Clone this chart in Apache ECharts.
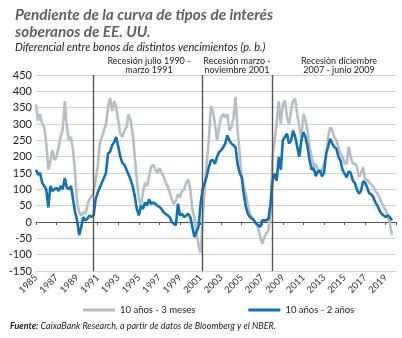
<!DOCTYPE html>
<html>
<head>
<meta charset="utf-8">
<script src="https://cdn.jsdelivr.net/npm/echarts@6/dist/echarts.min.js"></script>
<style>
html,body{margin:0;padding:0;background:#fff;}
#c{width:402px;height:338px;}
</style>
</head>
<body>
<div id="c"></div>
<script>
// Time base: first observation Jan 1985, one value every 0.2 years
const startYear = 1985;
const stepYears = 0.2;

// 10 años - 3 meses (p. b.)
const spread10y3m = [
  360, 310, 330, 300, 290,   // 1985
  240, 160, 185, 220, 190,   // 1986
  200, 230, 260, 285, 370,   // 1987
  290, 250, 260, 220, 150,   // 1988
  60, 30, 20, 30, 25,        // 1989
  50, 70, 80, 90, 130,       // 1990
  170, 240, 260, 280, 300,   // 1991
  350, 380, 340, 370, 350,   // 1992
  310, 270, 260, 280, 290,   // 1993
  330, 310, 270, 200, 130,   // 1994
  70, 50, 90, 120, 110,      // 1995
  140, 170, 175, 160, 150,   // 1996
  165, 150, 140, 120, 110,   // 1997
  90, 70, 55, 65, 85,        // 1998
  75, 95, 100, 120, 130,     // 1999
  100, 40, 10, -30, -70,     // 2000
  -95, 10, 100, 180, 250,    // 2001
  356, 340, 300, 250, 290,   // 2002
  320, 331, 320, 330, 280,   // 2003
  290, 320, 382, 280, 210,   // 2004
  140, 110, 85, 50, 25,      // 2005
  15, 5, -5, -20, -46,       // 2006
  -66, -46, -35, -25, 25,    // 2007
  200, 250, 300, 370, 300,   // 2008
  360, 372, 320, 300, 340,   // 2009
  372, 377, 330, 290, 260,   // 2010
  331, 310, 280, 229, 200,   // 2011
  168, 178, 160, 148, 160,   // 2012
  180, 199, 260, 290, 280,   // 2013
  260, 250, 229, 210, 199,   // 2014
  180, 178, 230, 200, 178,   // 2015
  180, 170, 137, 150, 168,   // 2016
  127, 130, 120, 115, 107,   // 2017
  95, 87, 75, 60, 46,        // 2018
  36, 20, -5, -40            // 2019
];

// 10 años - 2 años (p. b.)
const spread10y2y = [
  160, 145, 150, 120, 110,   // 1985
  100, 45, 110, 95, 100,     // 1986
  105, 95, 110, 100, 135,    // 1987
  105, 100, 110, 70, 30,     // 1988
  5, -40, -15, 15, 5,        // 1989
  10, 20, 15, 20, 70,        // 1990
  90, 105, 120, 135, 150,    // 1991
  210, 215, 235, 245, 260,   // 1992
  230, 200, 180, 175, 160,   // 1993
  145, 130, 110, 80, 40,     // 1994
  20, 50, 40, 60, 50,        // 1995
  70, 55, 60, 55, 50,        // 1996
  46, 40, 30, 25, 20,        // 1997
  15, 0, -5, -10, 56,        // 1998
  20, 25, 15, 20, 25,        // 1999
  15, -15, -46, -30, -15,    // 2000
  55, 100, 120, 140, 168,    // 2001
  188, 190, 178, 200, 214,   // 2002
  220, 229, 240, 265, 250,   // 2003
  240, 235, 229, 178, 150,   // 2004
  137, 87, 46, 25, 15,       // 2005
  10, 5, -5, -10, -15,       // 2006
  5, 5, 5, 10, 56,           // 2007
  127, 148, 127, 199, 160,   // 2008
  250, 260, 270, 240, 250,   // 2009
  280, 260, 230, 200, 250,   // 2010
  275, 260, 230, 190, 160,   // 2011
  165, 140, 155, 158, 140,   // 2012
  150, 209, 230, 255, 240,   // 2013
  229, 225, 200, 188, 160,   // 2014
  148, 137, 155, 150, 127,   // 2015
  120, 100, 87, 95, 125,     // 2016
  120, 105, 87, 85, 76,      // 2017
  60, 50, 35, 25, 20,        // 2018
  15, 20, 15, 5              // 2019
];

// Recession start dates (decimal years)
const recessionStarts = [1990.6, 2001.15, 2007.95];
const recessionLabels = [
  'Recesión julio 1990 -\nmarzo 1991',
  'Recesión marzo -\nnoviembre 2001',
  'Recesión diciembre\n2007 - junio 2009'
];

const seriesNames = ['10 años - 3 meses', '10 años - 2 años'];
const yTicks = {min: -150, max: 450, step: 50};
const xTicks = {firstYear: 1985, lastYear: 2020, step: 2};

const FONT = 'Lato, "Open Sans", sans-serif';

function toPairs(arr) {
  return arr.map((v, i) => [i * stepYears + (startYear - xTicks.firstYear), v]);
}

const chart = echarts.init(document.getElementById('c'), null, {renderer: 'canvas'});

const xSpan = xTicks.lastYear - xTicks.firstYear;

chart.setOption({
  animation: false,
  backgroundColor: '#fff',
  textStyle: {fontFamily: FONT},
  title: [
    {
      text: 'Pendiente de la curva de tipos de interés\nsoberanos de EE. UU.',
      left: 10, top: 2,
      textStyle: {fontFamily: FONT, fontSize: 15.3, fontWeight: 'bold', fontStyle: 'italic', color: '#616161', lineHeight: 17}
    },
    {
      text: 'Diferencial entre bonos de distintos vencimientos (p. b.)',
      left: 10, top: 36,
      textStyle: {fontFamily: FONT, fontSize: 11, fontWeight: 'normal', fontStyle: 'italic', color: '#222', lineHeight: 13}
    }
  ],
  grid: {left: 36, right: 6, top: 75, bottom: 67},
  legend: {
    data: seriesNames,
    left: 78, top: 300,
    icon: 'rect', itemWidth: 32, itemHeight: 3, itemGap: 53,
    textStyle: {fontFamily: FONT, fontSize: 9.5, color: '#222'}
  },
  xAxis: [
    {
      type: 'value', min: 0, max: xSpan, interval: xTicks.step,
      axisLine: {show: false, onZero: false},
      axisTick: {show: false},
      splitLine: {show: false},
      axisLabel: {
        rotate: 45, fontSize: 9.5, color: '#333', margin: 5, fontFamily: FONT,
        showMaxLabel: false,
        formatter: v => String(xTicks.firstYear + Math.round(v))
      }
    },
    {
      type: 'value', min: 0, max: xSpan, interval: xTicks.step, position: 'bottom',
      axisLine: {show: true, onZero: true, lineStyle: {color: '#555', width: 1}},
      axisTick: {show: true, length: 3, lineStyle: {color: '#555'}},
      splitLine: {show: false},
      axisLabel: {show: false}
    }
  ],
  yAxis: {
    type: 'value', min: yTicks.min, max: yTicks.max, interval: yTicks.step,
    axisLine: {show: false}, axisTick: {show: false},
    splitLine: {lineStyle: {color: '#cfcfcf', width: 1}},
    axisLabel: {fontSize: 11, color: '#222', margin: 4, fontFamily: FONT}
  },
  graphic: recessionLabels.map((t, i) => ({
    type: 'text',
    x: [149, 237, 339][i], y: 56,
    style: {text: t, fontFamily: FONT, fontSize: 9, lineHeight: 9.5, fill: '#222', align: 'center'}
  })).concat([{
    type: 'text', x: 10, y: 322,
    style: {
      text: '{b|Fuente:} CaixaBank Research, a partir de datos de Bloomberg y el NBER.',
      fontFamily: FONT, fontSize: 9, fontStyle: 'italic', fill: '#222',
      rich: {b: {fontFamily: FONT, fontSize: 9, fontStyle: 'italic', fontWeight: 'bold', fill: '#222'}}
    }
  }]),
  series: [
    {
      name: seriesNames[0], type: 'line', xAxisIndex: 0,
      data: toPairs(spread10y3m), showSymbol: false,
      lineStyle: {color: '#b5c0c5', width: 2.6}, itemStyle: {color: '#b5c0c5'}, z: 2
    },
    {
      name: seriesNames[1], type: 'line', xAxisIndex: 0,
      data: toPairs(spread10y2y), showSymbol: false,
      lineStyle: {color: '#1070b8', width: 2.6}, itemStyle: {color: '#1070b8'}, z: 3,
      markLine: {
        silent: true, symbol: 'none', label: {show: false},
        lineStyle: {color: '#555', width: 1.4, type: 'solid'},
        data: recessionStarts.map(y => ({xAxis: y - xTicks.firstYear}))
      }
    }
  ]
});
</script>
</body>
</html>
